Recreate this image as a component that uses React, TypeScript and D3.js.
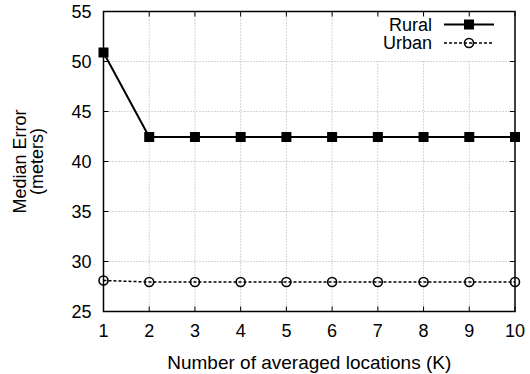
import React from 'react';
import * as d3 from 'd3';

const kValues = [1, 2, 3, 4, 5, 6, 7, 8, 9, 10];
const rural = [50.9, 42.45, 42.45, 42.45, 42.45, 42.45, 42.45, 42.45, 42.45, 42.45];
const urban = [28.1, 27.95, 27.95, 27.95, 27.95, 27.95, 27.95, 27.95, 27.95, 27.95];
const yTicks = [25, 30, 35, 40, 45, 50, 55];

const width = 530;
const height = 374;
const margin = { top: 11.5, right: 15, bottom: 62.5, left: 103.5 };
const font = '"Liberation Sans", Arial, Helvetica, sans-serif';
const fontSize = 18;

const App = () => {
  const x = d3.scaleLinear().domain([1, 10]).range([margin.left, width - margin.right]);
  const y = d3.scaleLinear().domain([25, 55]).range([height - margin.bottom, margin.top]);
  const [x0, x1] = x.range();
  const [y0, y1] = y.range();
  const tickLen = 5;

  const line = d3.line<number>()
    .x((_, i) => x(kValues[i]))
    .y(d => y(d));

  // legend
  const legX = 432;
  const legLine = [444, 494];
  const legRows = [y1 + 13, y1 + 31.5];

  return (
    <svg width={width} height={height} style={{ position: 'absolute', left: 0, top: 0, background: '#fff' }}
      fontFamily={font} fontSize={fontSize}>
      {/* grid */}
      <g stroke="#aaa" strokeWidth={1} strokeDasharray="1,2">
        {kValues.slice(1, -1).map(k => (
          <line key={'gx' + k} x1={x(k)} x2={x(k)} y1={y0} y2={y1} />
        ))}
        {yTicks.slice(1, -1).map(t => (
          <line key={'gy' + t} x1={x0} x2={x1} y1={y(t)} y2={y(t)} />
        ))}
      </g>

      {/* legend background */}
      <rect x={374} y={y1 + 5} width={x1 - 374 - 1} height={44} fill="#fff" />

      {/* ticks */}
      <g stroke="#000" strokeWidth={1}>
        {kValues.map(k => (
          <g key={'tx' + k}>
            <line x1={x(k)} x2={x(k)} y1={y0} y2={y0 - tickLen} />
            <line x1={x(k)} x2={x(k)} y1={y1} y2={y1 + tickLen} />
          </g>
        ))}
        {yTicks.map(t => (
          <g key={'ty' + t}>
            <line x1={x0} x2={x0 + tickLen} y1={y(t)} y2={y(t)} />
            <line x1={x1} x2={x1 - tickLen} y1={y(t)} y2={y(t)} />
          </g>
        ))}
      </g>

      {/* frame */}
      <rect x={x0} y={y1} width={x1 - x0} height={y0 - y1} fill="none" stroke="#000" strokeWidth={1.5} />

      {/* tick labels */}
      {yTicks.map(t => (
        <text key={'ly' + t} x={x0 - 12} y={y(t)} dy="0.35em" textAnchor="end">{t}</text>
      ))}
      {kValues.map(k => (
        <text key={'lx' + k} x={x(k)} y={y0 + 25} textAnchor="middle">{k}</text>
      ))}

      {/* axis titles */}
      <text x={(x0 + x1) / 2} y={height - 5} textAnchor="middle" fontSize={19}>Number of averaged locations (K)</text>
      <g transform={`translate(0,${(y0 + y1) / 2}) rotate(-90)`} textAnchor="middle">
        <text x={0} y={25.5}>Median Error</text>
        <text x={0} y={43}>(meters)</text>
      </g>

      {/* series */}
      <path d={line(rural) ?? ''} fill="none" stroke="#000" strokeWidth={2} />
      {rural.map((v, i) => (
        <rect key={'r' + i} x={x(kValues[i]) - 5} y={y(v) - 5} width={10} height={10} fill="#000" />
      ))}
      <path d={line(urban) ?? ''} fill="none" stroke="#000" strokeWidth={1.5} strokeDasharray="3,2" />
      {urban.map((v, i) => (
        <circle key={'u' + i} cx={x(kValues[i])} cy={y(v)} r={4.5} fill="none" stroke="#000" strokeWidth={1.6} />
      ))}

      {/* legend */}
      <text x={legX} y={legRows[0]} dy="0.35em" textAnchor="end">Rural</text>
      <line x1={legLine[0]} x2={legLine[1]} y1={legRows[0]} y2={legRows[0]} stroke="#000" strokeWidth={2} />
      <rect x={(legLine[0] + legLine[1]) / 2 - 5} y={legRows[0] - 5} width={10} height={10} fill="#000" />
      <text x={legX} y={legRows[1]} dy="0.35em" textAnchor="end">Urban</text>
      <line x1={legLine[0]} x2={legLine[1]} y1={legRows[1]} y2={legRows[1]} stroke="#000" strokeWidth={1.5} strokeDasharray="3,2" />
      <circle cx={(legLine[0] + legLine[1]) / 2} cy={legRows[1]} r={4.5} fill="none" stroke="#000" strokeWidth={1.6} />
    </svg>
  );
};

export default App;
